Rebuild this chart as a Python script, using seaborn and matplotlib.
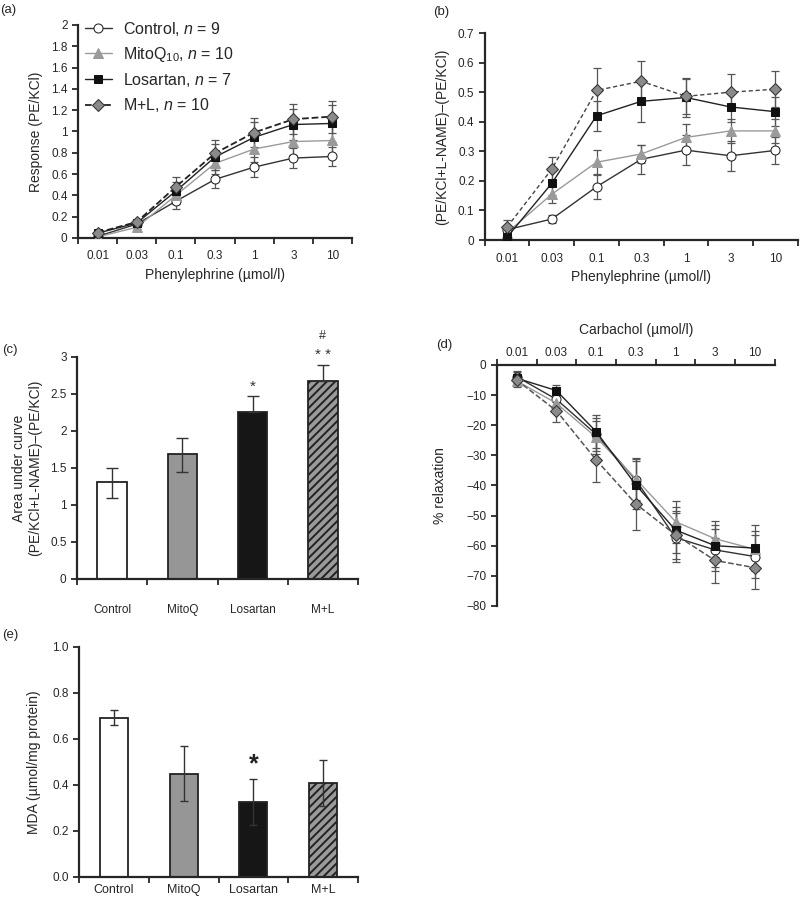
import numpy as np
import matplotlib
matplotlib.use('Agg')
import matplotlib.pyplot as plt
import seaborn as sns
from matplotlib.ticker import FixedLocator, FormatStrFormatter, NullFormatter

sns.set_style('ticks')
plt.rcParams['font.family'] = ['Liberation Sans', 'DejaVu Sans']
plt.rcParams['mathtext.fontset'] = 'custom'
plt.rcParams['mathtext.rm'] = 'Liberation Sans'
plt.rcParams['mathtext.it'] = 'Liberation Sans:italic'
plt.rcParams['hatch.linewidth'] = 1.4
plt.rcParams['axes.linewidth'] = 1.6

# ---- data ----
conc = ['0.01', '0.03', '0.1', '0.3', '1', '3', '10']
groups = ['Control', 'MitoQ', 'Losartan', 'M+L']
legend_labels = [r'Control, $\it{n}$ = 9',
                 r'MitoQ$_{\mathregular{10}}$, $\it{n}$ = 10',
                 r'Losartan, $\it{n}$ = 7',
                 r'M+L, $\it{n}$ = 10']

# (a) response PE/KCl
pe_mean = {
    'Control': [0.015, 0.13, 0.345, 0.55, 0.665, 0.75, 0.765],
    'MitoQ': [0.01, 0.10, 0.40, 0.70, 0.835, 0.905, 0.915],
    'Losartan': [0.045, 0.14, 0.44, 0.76, 0.945, 1.065, 1.075],
    'M+L': [0.05, 0.15, 0.48, 0.795, 0.99, 1.115, 1.14],
}
pe_err = {
    'Control': [0.01, 0.02, 0.075, 0.085, 0.095, 0.09, 0.09],
    'MitoQ': [0.01, 0.02, 0.08, 0.10, 0.12, 0.13, 0.14],
    'Losartan': [0.015, 0.02, 0.09, 0.12, 0.14, 0.15, 0.17],
    'M+L': [0.02, 0.02, 0.09, 0.12, 0.14, 0.14, 0.15],
}

# (b) L-NAME difference
ln_mean = {
    'Control': [0.035, 0.071, 0.18, 0.273, 0.304, 0.285, 0.303],
    'MitoQ': [0.025, 0.155, 0.263, 0.291, 0.347, 0.369, 0.369],
    'Losartan': [0.01, 0.192, 0.42, 0.469, 0.482, 0.45, 0.434],
    'M+L': [0.044, 0.24, 0.506, 0.537, 0.486, 0.50, 0.51],
}
ln_err = {
    'Control': [0.01, 0.015, 0.04, 0.05, 0.05, 0.05, 0.045],
    'MitoQ': [0.01, 0.03, 0.04, 0.03, 0.045, 0.04, 0.04],
    'Losartan': [0.01, 0.04, 0.05, 0.07, 0.065, 0.05, 0.05],
    'M+L': [0.025, 0.04, 0.075, 0.07, 0.06, 0.06, 0.06],
}

# (c) AUC
auc_mean = [1.306, 1.694, 2.257, 2.67]
auc_err_lo = [0.21, 0.25, 0.0, 0.0]
auc_err_hi = [0.19, 0.21, 0.22, 0.22]

# (d) carbachol relaxation
cch_mean = {
    'Control': [-3.9, -11.4, -23.0, -38.2, -57.3, -61.4, -63.6],
    'MitoQ': [-5.3, -12.7, -24.0, -37.8, -52.0, -57.7, -61.2],
    'Losartan': [-4.4, -8.5, -22.1, -39.8, -54.8, -60.0, -60.8],
    'M+L': [-5.0, -15.2, -31.5, -46.1, -56.4, -64.9, -67.3],
}
cch_err = {
    'Control': [2.0, 3.0, 5.5, 7.0, 8.0, 7.0, 7.0],
    'MitoQ': [2.0, 3.0, 5.5, 7.0, 7.0, 6.0, 6.0],
    'Losartan': [2.0, 2.0, 5.5, 8.0, 7.5, 7.0, 7.6],
    'M+L': [2.0, 3.8, 7.2, 8.7, 8.0, 7.5, 7.0],
}

# (e) MDA
mda_mean = [0.693, 0.449, 0.326, 0.41]
mda_err = [0.032, 0.12, 0.10, 0.10]

styles = {
    'Control': dict(color='#333333', marker='o', markerfacecolor='white',
                    markeredgecolor='#222222', linestyle='-', linewidth=1.0, markersize=6.5),
    'MitoQ': dict(color='#9a9a9a', marker='^', markerfacecolor='#9a9a9a',
                  markeredgecolor='#9a9a9a', linestyle='-', linewidth=1.0, markersize=7.5),
    'Losartan': dict(color='#222222', marker='s', markerfacecolor='#111111',
                     markeredgecolor='#111111', linestyle='-', linewidth=1.0, markersize=6),
    'M+L': dict(color='#222222', marker='D', markerfacecolor='#8a8a8a',
                markeredgecolor='#333333', linestyle='--', linewidth=1.0, markersize=6),
}

fig = plt.figure(figsize=(8, 9), dpi=100)


def cat_axis(ax, n, top=False):
    ax.set_xlim(-0.5, n - 0.5)
    ax.xaxis.set_major_locator(FixedLocator(np.arange(n + 1) - 0.5))
    ax.xaxis.set_major_formatter(NullFormatter())
    ax.xaxis.set_minor_locator(FixedLocator(np.arange(n)))
    ax.tick_params(axis='x', which='major', length=4, width=1.3, direction='out')
    ax.tick_params(axis='x', which='minor', length=0, labelsize=8.5, pad=9)
    ax.tick_params(axis='y', length=4, width=1.3, labelsize=8.5)
    sns.despine(ax=ax, top=not top, bottom=top, right=True)


def draw_lines(ax, means, errs, ml_width=1.3, ml_color='#222222'):
    x = np.arange(len(conc))
    lines = []
    for g in groups:
        st = dict(styles[g])
        if g == 'M+L':
            st['linewidth'] = ml_width
            st['color'] = ml_color
        ax.errorbar(x, means[g], yerr=errs[g], fmt='none', ecolor='#555555',
                    elinewidth=0.9, capsize=3, capthick=0.9, zorder=2)
        sns.lineplot(x=x, y=means[g], ax=ax, label=None, zorder=3, **st)
        lines.append(ax.get_lines()[-1])
    return lines


# (a)
ax_a = fig.add_axes([0.0975, 0.7356, 0.3425, 0.2367])
lines_a = draw_lines(ax_a, pe_mean, pe_err)
cat_axis(ax_a, 7)
ax_a.xaxis.set_minor_formatter(plt.FixedFormatter(conc))
ax_a.set_ylim(0, 2)
ax_a.set_yticks(np.arange(0, 2.01, 0.2))
ax_a.yaxis.set_major_formatter(plt.FuncFormatter(lambda v, p: f'{v:g}'))
ax_a.set_xlabel('Phenylephrine (µmol/l)', fontsize=10, labelpad=4)
ax_a.set_ylabel('Response (PE/KCl)', fontsize=10, labelpad=6)
ax_a.legend(lines_a, legend_labels, loc='upper left', frameon=False,
            fontsize=11.5, handlelength=1.7, handletextpad=0.7, labelspacing=0.45,
            bbox_to_anchor=(-0.01, 1.07), borderaxespad=0.2)

# (b)
ax_b = fig.add_axes([0.606, 0.7333, 0.391, 0.23])
lines_b = draw_lines(ax_b, ln_mean, ln_err, ml_width=1.0, ml_color='#444444')
lines_b[-1].set_linestyle((0, (3, 2)))
cat_axis(ax_b, 7)
ax_b.xaxis.set_minor_formatter(plt.FixedFormatter(conc))
ax_b.set_ylim(0, 0.7)
ax_b.set_yticks(np.arange(0, 0.71, 0.1))
ax_b.yaxis.set_major_formatter(plt.FuncFormatter(lambda v, p: f'{v:g}'))
ax_b.set_xlabel('Phenylephrine (µmol/l)', fontsize=10, labelpad=4)
ax_b.set_ylabel('(PE/KCl+L-NAME)–(PE/KCl)', fontsize=10, labelpad=6)

# (c)
bar_colors = ['white', '#969696', '#161616', '#9a9a9a']
ax_c = fig.add_axes([0.09625, 0.3567, 0.35125, 0.2467])
sns.barplot(x=groups, y=auc_mean, hue=groups, palette=bar_colors, legend=False,
            width=0.42, ax=ax_c, edgecolor='#222222', linewidth=1.3, saturation=1)
ax_c.patches[3].set_hatch('////')
ax_c.errorbar(np.arange(4), auc_mean, yerr=[auc_err_lo, auc_err_hi], fmt='none',
              ecolor='#333333', elinewidth=1.0, capsize=4, capthick=1.0, zorder=5)
cat_axis(ax_c, 4)
ax_c.xaxis.set_minor_formatter(plt.FixedFormatter(groups))
ax_c.tick_params(axis='x', which='minor', pad=18)
ax_c.set_ylim(0, 3)
ax_c.set_yticks(np.arange(0, 3.01, 0.5))
ax_c.yaxis.set_major_formatter(plt.FuncFormatter(lambda v, p: f'{v:g}'))
ax_c.set_xlabel('')
ax_c.set_ylabel('Area under curve\n(PE/KCl+L-NAME)–(PE/KCl)', fontsize=10, labelpad=6)
ax_c.text(2, 2.6, '*', ha='center', va='center', fontsize=11, color='#333333', clip_on=False)
ax_c.text(3, 3.02, '* *', ha='center', va='center', fontsize=11, color='#333333', clip_on=False)
ax_c.text(3, 3.28, '#', ha='center', va='center', fontsize=9, color='#333333', clip_on=False)

# (d)
ax_d = fig.add_axes([0.621, 0.3267, 0.3475, 0.2678])
draw_lines(ax_d, cch_mean, cch_err, ml_width=1.1, ml_color='#555555')
cat_axis(ax_d, 7, top=True)
ax_d.xaxis.set_ticks_position('top')
ax_d.xaxis.set_label_position('top')
ax_d.xaxis.set_minor_formatter(plt.FixedFormatter(conc))
ax_d.tick_params(axis='x', which='minor', pad=4)
ax_d.set_ylim(-80, 0)
ax_d.set_yticks(np.arange(-80, 1, 10))
ax_d.set_xlabel('Carbachol (µmol/l)', fontsize=10, labelpad=10)
ax_d.set_ylabel('% relaxation', fontsize=10, labelpad=14)

# (e)
ax_e = fig.add_axes([0.09875, 0.02556, 0.34875, 0.2556])
sns.barplot(x=groups, y=mda_mean, hue=groups, palette=bar_colors, legend=False,
            width=0.4, ax=ax_e, edgecolor='#222222', linewidth=1.3, saturation=1)
ax_e.patches[3].set_hatch('////')
ax_e.errorbar(np.arange(4), mda_mean, yerr=mda_err, fmt='none',
              ecolor='#333333', elinewidth=1.0, capsize=3, capthick=1.0, zorder=5)
cat_axis(ax_e, 4)
ax_e.xaxis.set_minor_formatter(plt.FixedFormatter(groups))
ax_e.tick_params(axis='x', which='minor', pad=5, labelsize=9)
ax_e.set_ylim(0, 1.0)
ax_e.set_yticks(np.arange(0, 1.01, 0.2))
ax_e.yaxis.set_major_formatter(FormatStrFormatter('%.1f'))
ax_e.set_xlabel('')
ax_e.set_ylabel('MDA (µmol/mg protein)', fontsize=10, labelpad=8)
ax_e.text(2, 0.49, '*', ha='center', va='center', fontsize=18, fontweight='bold', color='#222222')

# panel letters
for lab, (px, py) in {'(a)': (0, 10), '(b)': (433, 12), '(c)': (2, 350),
                      '(d)': (436, 345), '(e)': (2, 635)}.items():
    fig.text(px / 800, 1 - py / 900, lab, fontsize=9.5, ha='left', va='center')

fig.savefig('out.png', dpi=100)
